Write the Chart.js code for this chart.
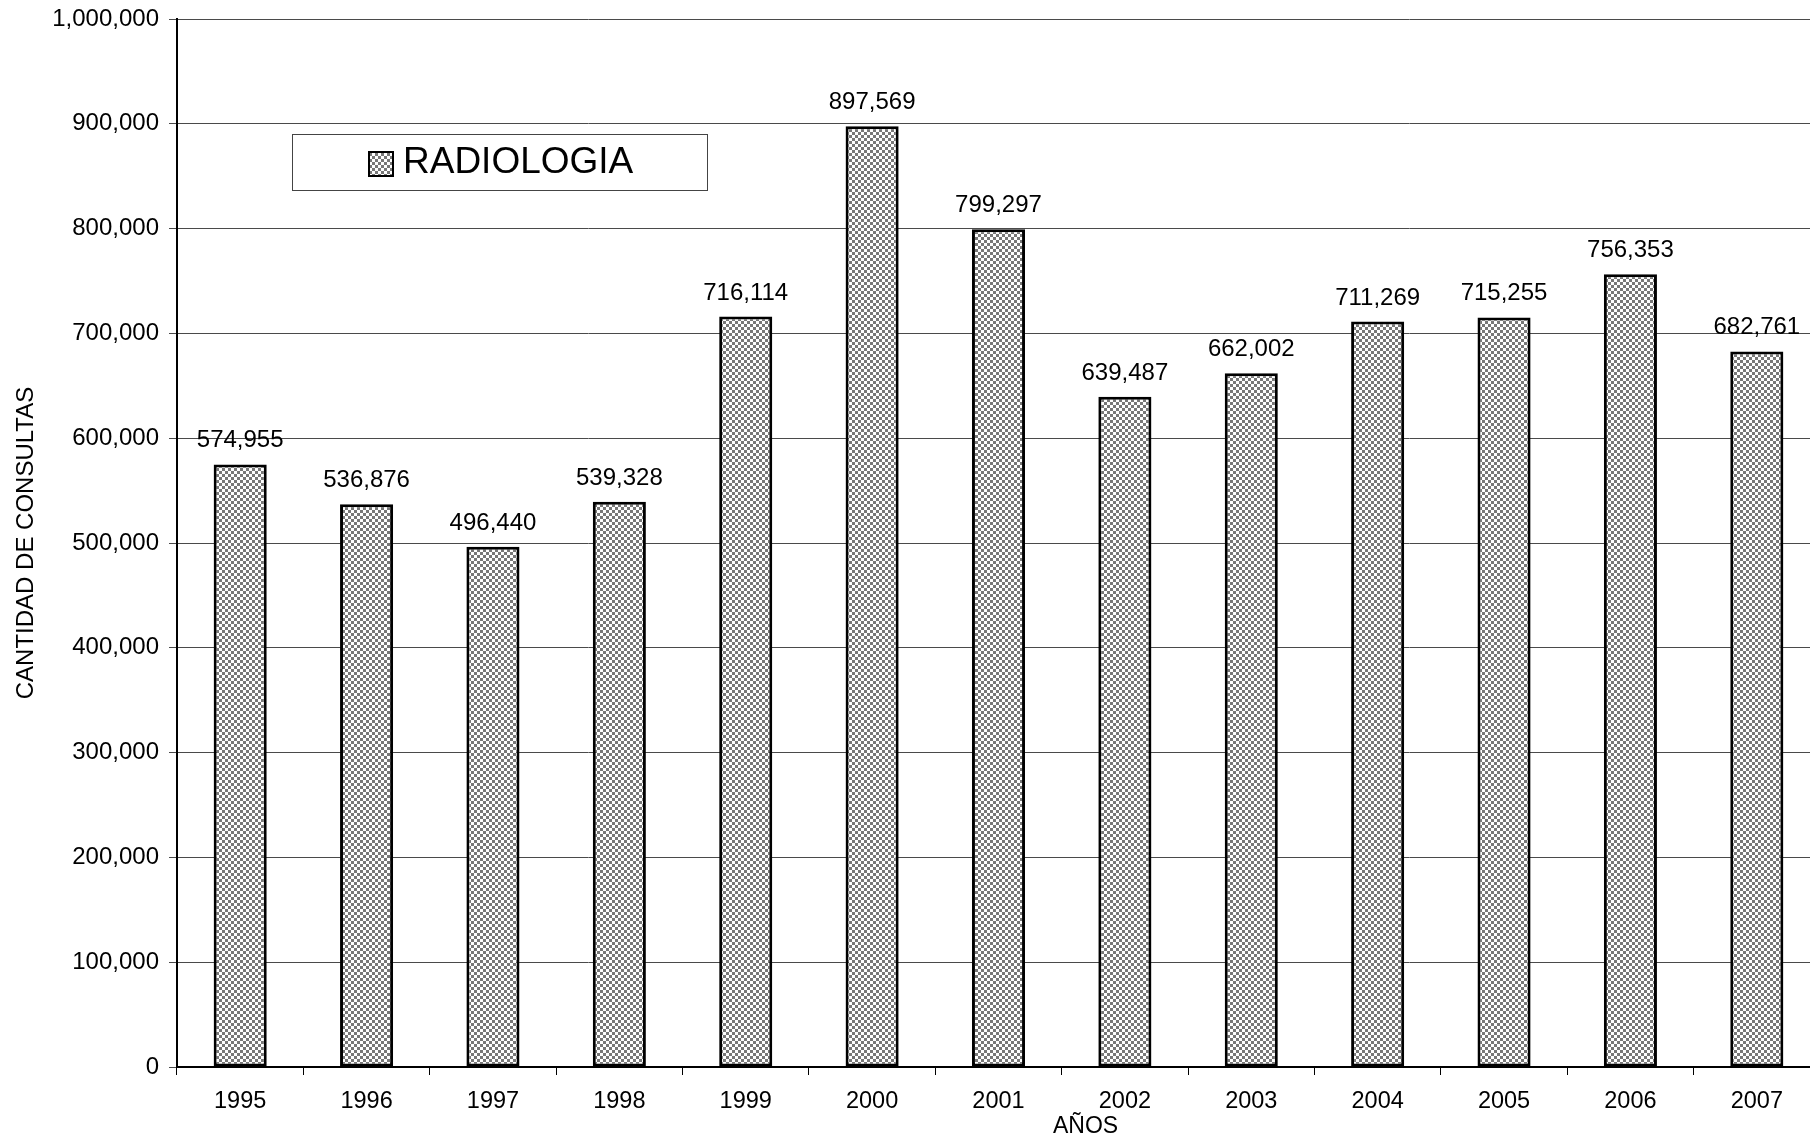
<!DOCTYPE html>
<html>
<head>
<meta charset="utf-8">
<title>Radiologia · Cantidad de consultas</title>
<script src="https://cdn.jsdelivr.net/npm/chart.js@4.4.1/dist/chart.umd.min.js"></script>
<style>
  html, body { margin: 0; padding: 0; background: #fff; overflow: hidden; }
  #wrap { width: 1830px; height: 1137px; }
</style>
</head>
<body>
<div id="wrap"><canvas id="chart" width="1830" height="1137"></canvas></div>
<script>
// Datos
const YEARS = ['1995', '1996', '1997', '1998', '1999', '2000', '2001', '2002', '2003', '2004', '2005', '2006', '2007'];
const CONSULTAS = [574955, 536876, 496440, 539328, 716114, 897569, 799297, 639487, 662002, 711269, 715255, 756353, 682761];
const SERIES_LABEL = 'RADIOLOGIA';
const Y_TITLE = 'CANTIDAD DE CONSULTAS';
const X_TITLE = 'AÑOS';

const FONT = 'Liberation Sans, Arial, sans-serif';
const fmt = v => Number(v).toLocaleString('en-US');

// checkerboard fill like the old Excel pattern
function makePattern() {
  const c = document.createElement('canvas');
  c.width = 6; c.height = 6;
  const g = c.getContext('2d');
  g.fillStyle = '#ffffff';
  g.fillRect(0, 0, 6, 6);
  g.fillStyle = '#787878';
  g.fillRect(0, 0, 3, 3);
  g.fillRect(3, 3, 3, 3);
  return g.createPattern(c, 'repeat');
}
const PATTERN = makePattern();

// value labels above each bar
const valueLabels = {
  id: 'valueLabels',
  afterDatasetsDraw(chart) {
    const ctx = chart.ctx;
    const meta = chart.getDatasetMeta(0);
    ctx.save();
    ctx.font = `24px ${FONT}`;
    ctx.fillStyle = '#000';
    ctx.textAlign = 'center';
    ctx.textBaseline = 'alphabetic';
    meta.data.forEach((bar, i) => {
      ctx.fillText(fmt(chart.data.datasets[0].data[i]), bar.x, bar.y - 17);
    });
    ctx.restore();
  }
};

// boxed legend inside the plot + x axis title
const boxLegend = {
  id: 'boxLegend',
  afterDraw(chart) {
    const { ctx, chartArea: a } = chart;
    const x0 = a.left + 115, y0 = a.top + 115;
    ctx.save();
    ctx.fillStyle = '#fff';
    ctx.fillRect(x0, y0, 415, 56);
    ctx.strokeStyle = '#444';
    ctx.lineWidth = 1;
    ctx.strokeRect(x0 + 0.5, y0 + 0.5, 415, 56);
    // swatch
    ctx.fillStyle = PATTERN;
    ctx.fillRect(x0 + 77, y0 + 18, 24, 24);
    ctx.strokeStyle = '#000';
    ctx.lineWidth = 2;
    ctx.strokeRect(x0 + 77, y0 + 18, 24, 24);
    ctx.fillStyle = '#000';
    ctx.font = `37px ${FONT}`;
    ctx.textAlign = 'left';
    ctx.textBaseline = 'middle';
    ctx.fillText(chart.data.datasets[0].label, x0 + 111, y0 + 29);
    // x title
    ctx.font = `23px ${FONT}`;
    ctx.textAlign = 'center';
    ctx.fillText(X_TITLE, a.left + (a.right - a.left) * 0.553, a.bottom + 60);
    ctx.restore();
  }
};

new Chart(document.getElementById('chart'), {
  type: 'bar',
  data: {
    labels: YEARS,
    datasets: [{
      label: SERIES_LABEL,
      data: CONSULTAS,
      backgroundColor: PATTERN,
      borderColor: '#000',
      borderWidth: 3,
      borderSkipped: false,
      barPercentage: 0.42,
      categoryPercentage: 1,
    }],
  },
  options: {
    responsive: false,
    devicePixelRatio: 1,
    animation: false,
    layout: { padding: { top: 19, right: 10, left: 0, bottom: 0 } },
    plugins: {
      legend: { display: false },
      tooltip: { enabled: false },
    },
    scales: {
      x: {
        afterFit: s => { s.height = 70; s.paddingLeft = 0; s.paddingRight = 0; },
        grid: {
          offset: true,
          drawOnChartArea: false,
          color: '#000',
          tickLength: 8,
          lineWidth: 1,
        },
        border: { color: '#000', width: 2 },
        ticks: { color: '#000', font: { family: FONT, size: 23.5 }, padding: 12, maxRotation: 0 },
      },
      y: {
        min: 0,
        max: 1000000,
        afterFit: s => { s.width = 177; s.paddingTop = 0; s.paddingBottom = 0; },
        grid: { color: '#4a4a4a', lineWidth: 1, tickLength: 8 },
        border: { color: '#000', width: 2 },
        ticks: {
          stepSize: 100000,
          color: '#000',
          padding: 10,
          font: { family: FONT, size: 24 },
          callback: v => fmt(v),
        },
        title: {
          display: true,
          text: Y_TITLE,
          color: '#000',
          font: { family: FONT, size: 24 },
          padding: { top: 12, bottom: 0 },
        },
      },
    },
  },
  plugins: [valueLabels, boxLegend],
});
</script>
</body>
</html>
